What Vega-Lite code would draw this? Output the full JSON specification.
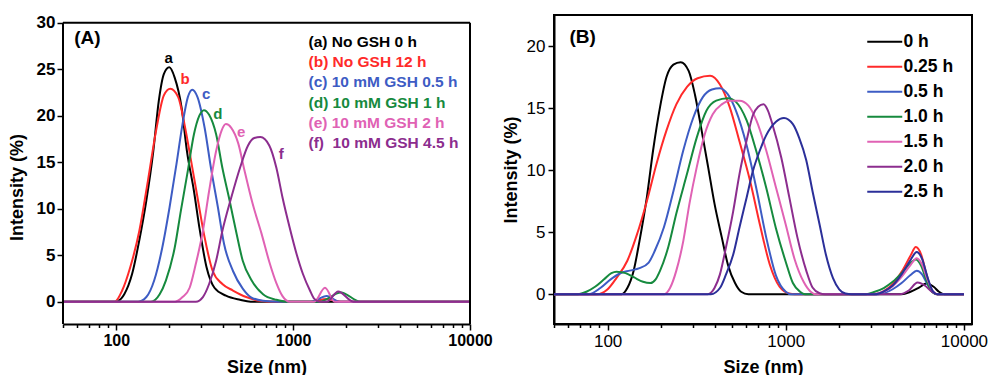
{
  "$schema": "https://vega.github.io/schema/vega-lite/v6.json",
  "padding": {"left": 8, "top": 13, "right": 0, "bottom": 0},
  "spacing": 8,
  "config": {
    "font": "Liberation Sans",
    "view": {"stroke": "black", "strokeWidth": 2},
    "axis": {"grid": false, "domainColor": "black", "domainWidth": 2, "tickColor": "black", "tickWidth": 1.5, "labelColor": "black", "titleColor": "black", "labelOverlap": false, "labelFlush": false, "titleFontWeight": "bold", "titleFontSize": 18}
  },
  "resolve": {"scale": {"x": "independent", "y": "independent", "color": "independent"}, "legend": {"color": "independent"}},
  "datasets": {
    "A": [
      {"k":"a","s":50,"v":0},{"k":"a","s":100,"v":0},{"k":"a","s":102,"v":0.05},{"k":"a","s":111,"v":0.8},{"k":"a","s":123,"v":3.0},{"k":"a","s":135,"v":6.6},{"k":"a","s":148,"v":10.9},{"k":"a","s":162,"v":16.2},{"k":"a","s":174,"v":21.6},{"k":"a","s":186,"v":24.5},{"k":"a","s":199.5,"v":25.2},{"k":"a","s":214,"v":24.1},{"k":"a","s":234,"v":20.9},{"k":"a","s":251,"v":16.2},{"k":"a","s":275,"v":11.9},{"k":"a","s":295,"v":8.0},{"k":"a","s":324,"v":3.7},{"k":"a","s":359,"v":1.5},{"k":"a","s":417,"v":0.65},{"k":"a","s":501,"v":0.2},{"k":"a","s":575,"v":0},{"k":"a","s":10000,"v":0},
      {"k":"b","s":50,"v":0},{"k":"b","s":98,"v":0},{"k":"b","s":108,"v":1.2},{"k":"b","s":120,"v":3.7},{"k":"b","s":135,"v":7.6},{"k":"b","s":151,"v":13.0},{"k":"b","s":168,"v":18.4},{"k":"b","s":186,"v":22.2},{"k":"b","s":202,"v":22.9},{"k":"b","s":224,"v":22.0},{"k":"b","s":243,"v":19.1},{"k":"b","s":263,"v":15.5},{"k":"b","s":288,"v":11.2},{"k":"b","s":316,"v":6.9},{"k":"b","s":351,"v":3.3},{"k":"b","s":398,"v":1.9},{"k":"b","s":457,"v":1.2},{"k":"b","s":543,"v":0.5},{"k":"b","s":646,"v":0.1},{"k":"b","s":776,"v":0},{"k":"b","s":1259,"v":0},{"k":"b","s":1549,"v":0.3},{"k":"b","s":1862,"v":0},{"k":"b","s":10000,"v":0},
      {"k":"c","s":50,"v":0},{"k":"c","s":133,"v":0},{"k":"c","s":148,"v":0.5},{"k":"c","s":164,"v":2.3},{"k":"c","s":182,"v":5.8},{"k":"c","s":200,"v":10.1},{"k":"c","s":219,"v":14.8},{"k":"c","s":237,"v":19.1},{"k":"c","s":254,"v":22.0},{"k":"c","s":269,"v":22.8},{"k":"c","s":288,"v":22.0},{"k":"c","s":316,"v":18.7},{"k":"c","s":343,"v":14.4},{"k":"c","s":376,"v":10.1},{"k":"c","s":407,"v":6.2},{"k":"c","s":457,"v":3.3},{"k":"c","s":519,"v":1.4},{"k":"c","s":575,"v":0.5},{"k":"c","s":676,"v":0.1},{"k":"c","s":832,"v":0},{"k":"c","s":1259,"v":0},{"k":"c","s":1549,"v":0.6},{"k":"c","s":1820,"v":0},{"k":"c","s":10000,"v":0},
      {"k":"d","s":50,"v":0},{"k":"d","s":157,"v":0},{"k":"d","s":176,"v":0.8},{"k":"d","s":191,"v":2.3},{"k":"d","s":214,"v":5.8},{"k":"d","s":232,"v":9.8},{"k":"d","s":254,"v":14.1},{"k":"d","s":275,"v":18.0},{"k":"d","s":295,"v":20.0},{"k":"d","s":313,"v":20.6},{"k":"d","s":335,"v":20.1},{"k":"d","s":367,"v":18.0},{"k":"d","s":398,"v":14.4},{"k":"d","s":437,"v":10.9},{"k":"d","s":479,"v":7.3},{"k":"d","s":519,"v":4.4},{"k":"d","s":582,"v":2.3},{"k":"d","s":676,"v":0.8},{"k":"d","s":804,"v":0.2},{"k":"d","s":912,"v":0},{"k":"d","s":1413,"v":0},{"k":"d","s":1862,"v":1.0},{"k":"d","s":2399,"v":0},{"k":"d","s":10000,"v":0},
      {"k":"e","s":50,"v":0},{"k":"e","s":215,"v":0},{"k":"e","s":237,"v":0.5},{"k":"e","s":260,"v":1.5},{"k":"e","s":282,"v":4.1},{"k":"e","s":309,"v":7.6},{"k":"e","s":335,"v":11.9},{"k":"e","s":367,"v":16.2},{"k":"e","s":394,"v":18.4},{"k":"e","s":417,"v":19.1},{"k":"e","s":447,"v":18.7},{"k":"e","s":490,"v":17.0},{"k":"e","s":531,"v":14.1},{"k":"e","s":589,"v":10.6},{"k":"e","s":661,"v":7.4},{"k":"e","s":733,"v":4.3},{"k":"e","s":804,"v":2.0},{"k":"e","s":871,"v":0.6},{"k":"e","s":955,"v":0},{"k":"e","s":1318,"v":0},{"k":"e","s":1514,"v":1.5},{"k":"e","s":1718,"v":0},{"k":"e","s":10000,"v":0},
      {"k":"f","s":50,"v":0},{"k":"f","s":282,"v":0},{"k":"f","s":309,"v":0.5},{"k":"f","s":335,"v":1.9},{"k":"f","s":367,"v":4.4},{"k":"f","s":398,"v":7.6},{"k":"f","s":447,"v":11.2},{"k":"f","s":501,"v":14.4},{"k":"f","s":556,"v":16.8},{"k":"f","s":603,"v":17.6},{"k":"f","s":653,"v":17.7},{"k":"f","s":733,"v":16.8},{"k":"f","s":804,"v":14.4},{"k":"f","s":871,"v":11.2},{"k":"f","s":955,"v":8.0},{"k":"f","s":1047,"v":5.1},{"k":"f","s":1135,"v":3.0},{"k":"f","s":1245,"v":1.2},{"k":"f","s":1318,"v":0.3},{"k":"f","s":1413,"v":0},{"k":"f","s":1549,"v":0},{"k":"f","s":1799,"v":1.1},{"k":"f","s":2188,"v":0},{"k":"f","s":10000,"v":0}
    ],
    "labA": [
      {"k":"a","s":198,"v":26.2,"t":"a"},{"k":"b","s":245,"v":24.0,"t":"b"},{"k":"c","s":322,"v":22.3,"t":"c"},{"k":"d","s":375,"v":20.2,"t":"d"},{"k":"e","s":509,"v":18.3,"t":"e"},{"k":"f","s":857,"v":15.9,"t":"f"}
    ],
    "B": [
      {"t":"0 h","s":50,"v":0},{"t":"0 h","s":120,"v":0},{"t":"0 h","s":129,"v":0.5},{"t":"0 h","s":140,"v":1.9},{"t":"0 h","s":151,"v":4.3},{"t":"0 h","s":166,"v":7.8},{"t":"0 h","s":180,"v":11.6},{"t":"0 h","s":197,"v":15.1},{"t":"0 h","s":214,"v":17.5},{"t":"0 h","s":234,"v":18.5},{"t":"0 h","s":257,"v":18.7},{"t":"0 h","s":285,"v":18.0},{"t":"0 h","s":309,"v":16.1},{"t":"0 h","s":335,"v":13.4},{"t":"0 h","s":367,"v":10.2},{"t":"0 h","s":398,"v":7.3},{"t":"0 h","s":437,"v":4.6},{"t":"0 h","s":473,"v":2.4},{"t":"0 h","s":519,"v":0.9},{"t":"0 h","s":562,"v":0.2},{"t":"0 h","s":617,"v":0},{"t":"0 h","s":4467,"v":0},{"t":"0 h","s":5012,"v":0.2},{"t":"0 h","s":5623,"v":0.55},{"t":"0 h","s":6166,"v":0.86},{"t":"0 h","s":6761,"v":0.6},{"t":"0 h","s":7244,"v":0.2},{"t":"0 h","s":7762,"v":0},{"t":"0 h","s":10000,"v":0},
      {"t":"0.25 h","s":50,"v":0},{"t":"0.25 h","s":87,"v":0},{"t":"0.25 h","s":100,"v":0.4},{"t":"0.25 h","s":112,"v":1.3},{"t":"0.25 h","s":129,"v":2.7},{"t":"0.25 h","s":146,"v":4.8},{"t":"0.25 h","s":166,"v":7.5},{"t":"0.25 h","s":188,"v":10.5},{"t":"0.25 h","s":214,"v":13.2},{"t":"0.25 h","s":243,"v":15.3},{"t":"0.25 h","s":279,"v":16.7},{"t":"0.25 h","s":320,"v":17.4},{"t":"0.25 h","s":376,"v":17.6},{"t":"0.25 h","s":427,"v":16.9},{"t":"0.25 h","s":484,"v":15.1},{"t":"0.25 h","s":550,"v":12.3},{"t":"0.25 h","s":631,"v":9.1},{"t":"0.25 h","s":716,"v":5.6},{"t":"0.25 h","s":813,"v":2.4},{"t":"0.25 h","s":923,"v":0.6},{"t":"0.25 h","s":1047,"v":0.05},{"t":"0.25 h","s":1122,"v":0},{"t":"0.25 h","s":3162,"v":0},{"t":"0.25 h","s":3548,"v":0.25},{"t":"0.25 h","s":3981,"v":0.8},{"t":"0.25 h","s":4467,"v":1.8},{"t":"0.25 h","s":5012,"v":3.1},{"t":"0.25 h","s":5370,"v":3.8},{"t":"0.25 h","s":5754,"v":3.2},{"t":"0.25 h","s":6166,"v":1.6},{"t":"0.25 h","s":6607,"v":0.3},{"t":"0.25 h","s":7079,"v":0},{"t":"0.25 h","s":10000,"v":0},
      {"t":"0.5 h","s":50,"v":0},{"t":"0.5 h","s":78,"v":0},{"t":"0.5 h","s":91,"v":0.5},{"t":"0.5 h","s":104,"v":1.2},{"t":"0.5 h","s":117,"v":1.67},{"t":"0.5 h","s":133,"v":1.9},{"t":"0.5 h","s":151,"v":2.1},{"t":"0.5 h","s":170,"v":2.55},{"t":"0.5 h","s":184,"v":3.5},{"t":"0.5 h","s":207,"v":5.4},{"t":"0.5 h","s":234,"v":8.3},{"t":"0.5 h","s":266,"v":11.6},{"t":"0.5 h","s":302,"v":14.2},{"t":"0.5 h","s":343,"v":15.9},{"t":"0.5 h","s":385,"v":16.5},{"t":"0.5 h","s":427,"v":16.6},{"t":"0.5 h","s":473,"v":16.1},{"t":"0.5 h","s":525,"v":14.8},{"t":"0.5 h","s":603,"v":12.0},{"t":"0.5 h","s":684,"v":8.5},{"t":"0.5 h","s":776,"v":4.6},{"t":"0.5 h","s":881,"v":1.5},{"t":"0.5 h","s":1000,"v":0.2},{"t":"0.5 h","s":1072,"v":0},{"t":"0.5 h","s":3311,"v":0},{"t":"0.5 h","s":3981,"v":0.4},{"t":"0.5 h","s":4467,"v":0.9},{"t":"0.5 h","s":5012,"v":1.55},{"t":"0.5 h","s":5433,"v":1.9},{"t":"0.5 h","s":5821,"v":1.6},{"t":"0.5 h","s":6237,"v":0.8},{"t":"0.5 h","s":6683,"v":0.15},{"t":"0.5 h","s":7079,"v":0},{"t":"0.5 h","s":10000,"v":0},
      {"t":"1.0 h","s":50,"v":0},{"t":"1.0 h","s":68,"v":0},{"t":"1.0 h","s":76,"v":0.2},{"t":"1.0 h","s":85,"v":0.6},{"t":"1.0 h","s":95.5,"v":1.2},{"t":"1.0 h","s":105,"v":1.7},{"t":"1.0 h","s":112,"v":1.82},{"t":"1.0 h","s":126,"v":1.7},{"t":"1.0 h","s":141,"v":1.35},{"t":"1.0 h","s":158,"v":1.0},{"t":"1.0 h","s":174,"v":0.9},{"t":"1.0 h","s":186,"v":1.2},{"t":"1.0 h","s":197,"v":1.9},{"t":"1.0 h","s":219,"v":3.8},{"t":"1.0 h","s":243,"v":6.5},{"t":"1.0 h","s":279,"v":9.7},{"t":"1.0 h","s":316,"v":12.6},{"t":"1.0 h","s":359,"v":14.8},{"t":"1.0 h","s":407,"v":15.6},{"t":"1.0 h","s":473,"v":15.8},{"t":"1.0 h","s":525,"v":15.5},{"t":"1.0 h","s":603,"v":14.0},{"t":"1.0 h","s":684,"v":11.5},{"t":"1.0 h","s":776,"v":8.6},{"t":"1.0 h","s":881,"v":5.3},{"t":"1.0 h","s":1000,"v":2.6},{"t":"1.0 h","s":1096,"v":0.9},{"t":"1.0 h","s":1202,"v":0.2},{"t":"1.0 h","s":1288,"v":0},{"t":"1.0 h","s":2818,"v":0},{"t":"1.0 h","s":3162,"v":0.2},{"t":"1.0 h","s":3548,"v":0.5},{"t":"1.0 h","s":3981,"v":1.0},{"t":"1.0 h","s":4467,"v":1.7},{"t":"1.0 h","s":5012,"v":2.5},{"t":"1.0 h","s":5370,"v":2.8},{"t":"1.0 h","s":5754,"v":2.3},{"t":"1.0 h","s":6166,"v":1.1},{"t":"1.0 h","s":6607,"v":0.2},{"t":"1.0 h","s":7079,"v":0},{"t":"1.0 h","s":10000,"v":0},
      {"t":"1.5 h","s":50,"v":0},{"t":"1.5 h","s":208,"v":0},{"t":"1.5 h","s":224,"v":0.5},{"t":"1.5 h","s":243,"v":1.9},{"t":"1.5 h","s":266,"v":4.3},{"t":"1.5 h","s":288,"v":7.3},{"t":"1.5 h","s":316,"v":10.2},{"t":"1.5 h","s":351,"v":12.9},{"t":"1.5 h","s":389,"v":14.5},{"t":"1.5 h","s":437,"v":15.3},{"t":"1.5 h","s":484,"v":15.6},{"t":"1.5 h","s":550,"v":15.6},{"t":"1.5 h","s":617,"v":15.2},{"t":"1.5 h","s":684,"v":14.0},{"t":"1.5 h","s":776,"v":11.6},{"t":"1.5 h","s":881,"v":8.6},{"t":"1.5 h","s":1000,"v":5.6},{"t":"1.5 h","s":1122,"v":2.8},{"t":"1.5 h","s":1259,"v":1.0},{"t":"1.5 h","s":1380,"v":0.2},{"t":"1.5 h","s":1479,"v":0},{"t":"1.5 h","s":3020,"v":0},{"t":"1.5 h","s":3548,"v":0.2},{"t":"1.5 h","s":3981,"v":0.65},{"t":"1.5 h","s":4467,"v":1.4},{"t":"1.5 h","s":5012,"v":2.35},{"t":"1.5 h","s":5433,"v":2.9},{"t":"1.5 h","s":5821,"v":2.4},{"t":"1.5 h","s":6237,"v":1.2},{"t":"1.5 h","s":6683,"v":0.25},{"t":"1.5 h","s":7079,"v":0},{"t":"1.5 h","s":10000,"v":0},
      {"t":"2.0 h","s":50,"v":0},{"t":"2.0 h","s":365,"v":0},{"t":"2.0 h","s":398,"v":0.5},{"t":"2.0 h","s":427,"v":1.6},{"t":"2.0 h","s":462,"v":3.8},{"t":"2.0 h","s":507,"v":6.7},{"t":"2.0 h","s":550,"v":9.7},{"t":"2.0 h","s":603,"v":12.4},{"t":"2.0 h","s":653,"v":14.4},{"t":"2.0 h","s":700,"v":15.1},{"t":"2.0 h","s":750,"v":15.3},{"t":"2.0 h","s":794,"v":14.8},{"t":"2.0 h","s":841,"v":13.7},{"t":"2.0 h","s":944,"v":11.0},{"t":"2.0 h","s":1047,"v":7.8},{"t":"2.0 h","s":1161,"v":4.6},{"t":"2.0 h","s":1303,"v":1.9},{"t":"2.0 h","s":1413,"v":0.54},{"t":"2.0 h","s":1549,"v":0.08},{"t":"2.0 h","s":1660,"v":0},{"t":"2.0 h","s":4365,"v":0},{"t":"2.0 h","s":4898,"v":0.3},{"t":"2.0 h","s":5495,"v":0.94},{"t":"2.0 h","s":6026,"v":0.7},{"t":"2.0 h","s":6607,"v":0.2},{"t":"2.0 h","s":7079,"v":0},{"t":"2.0 h","s":10000,"v":0},
      {"t":"2.5 h","s":50,"v":0},{"t":"2.5 h","s":380,"v":0},{"t":"2.5 h","s":427,"v":0.5},{"t":"2.5 h","s":462,"v":1.6},{"t":"2.5 h","s":507,"v":3.2},{"t":"2.5 h","s":550,"v":5.4},{"t":"2.5 h","s":603,"v":7.8},{"t":"2.5 h","s":653,"v":9.9},{"t":"2.5 h","s":716,"v":11.6},{"t":"2.5 h","s":776,"v":12.8},{"t":"2.5 h","s":881,"v":13.9},{"t":"2.5 h","s":977,"v":14.2},{"t":"2.5 h","s":1096,"v":13.7},{"t":"2.5 h","s":1189,"v":12.6},{"t":"2.5 h","s":1303,"v":10.8},{"t":"2.5 h","s":1413,"v":8.3},{"t":"2.5 h","s":1549,"v":5.6},{"t":"2.5 h","s":1679,"v":3.2},{"t":"2.5 h","s":1841,"v":1.3},{"t":"2.5 h","s":1995,"v":0.4},{"t":"2.5 h","s":2163,"v":0.05},{"t":"2.5 h","s":2344,"v":0},{"t":"2.5 h","s":3162,"v":0},{"t":"2.5 h","s":3548,"v":0.22},{"t":"2.5 h","s":3981,"v":0.7},{"t":"2.5 h","s":4467,"v":1.6},{"t":"2.5 h","s":5012,"v":2.75},{"t":"2.5 h","s":5433,"v":3.4},{"t":"2.5 h","s":5821,"v":2.85},{"t":"2.5 h","s":6237,"v":1.4},{"t":"2.5 h","s":6683,"v":0.25},{"t":"2.5 h","s":7079,"v":0},{"t":"2.5 h","s":10000,"v":0}
    ]
  },
  "hconcat": [
    {
      "width": 407, "height": 309,
      "view": {"stroke": null},
      "layer": [
        {
          "data": {"name": "A"},
          "mark": {"type": "line", "interpolate": "monotone", "strokeWidth": 2, "clip": true},
          "encoding": {
            "x": {"field": "s", "type": "quantitative", "scale": {"type": "log", "domain": [50, 10000], "nice": false},
              "axis": {"title": "Size (nm)", "values": [50,60,70,80,90,100,200,300,400,500,600,700,800,900,1000,2000,3000,4000,5000,6000,7000,8000,9000,10000], "format": "d",
                "labelExpr": "datum.value == 100 || datum.value == 1000 || datum.value == 10000 ? datum.label : ''",
                "tickSize": {"condition": {"test": "datum.value == 100 || datum.value == 1000 || datum.value == 10000", "value": 6}, "value": 3.5},
                "labelFontSize": 16, "labelFontWeight": "bold", "labelPadding": 2, "titlePadding": 10}},
            "y": {"field": "v", "type": "quantitative", "scale": {"domain": [-2.4, 30.83], "nice": false, "zero": false},
              "axis": {"title": "Intensity (%)", "domain": false, "titleY": 172, "values": [0,2.5,5,7.5,10,12.5,15,17.5,20,22.5,25,27.5,30],
                "labelExpr": "datum.value % 5 == 0 ? datum.label : ''",
                "tickSize": {"condition": {"test": "datum.value % 5 == 0", "value": 6}, "value": -4},
                "labelFontSize": 17, "labelFontWeight": "bold", "labelPadding": 2, "titlePadding": 10}},
            "color": {"field": "k", "type": "nominal",
              "scale": {"domain": ["a","b","c","d","e","f"], "range": ["#000000","#ff2a2a","#3d5cc4","#168a3e","#e062b4","#8c2d8e"]},
              "legend": {"orient": "none", "legendX": 230, "legendY": 19, "title": null, "padding": 0,
                "labelExpr": "datum.value == 'a' ? '(a) No GSH 0 h' : datum.value == 'b' ? '(b) No GSH 12 h' : datum.value == 'c' ? '(c) 10 mM GSH 0.5 h' : datum.value == 'd' ? '(d) 10 mM GSH 1 h' : datum.value == 'e' ? '(e) 10 mM GSH 2 h' : '(f)\u00a0 10 mM GSH 4.5 h'",
                "labelColor": {"expr": "datum.value == 'a' ? '#000000' : datum.value == 'b' ? '#ff2a2a' : datum.value == 'c' ? '#3d5cc4' : datum.value == 'd' ? '#168a3e' : datum.value == 'e' ? '#e062b4' : '#8c2d8e'"},
                "labelFontSize": 15.5, "labelFontWeight": "bold", "labelLimit": 400, "labelOffset": 0,
                "symbolOpacity": 0, "symbolSize": 0, "symbolStrokeWidth": 0, "rowPadding": 3.3}}
          }
        },
        {
          "data": {"values": [{}]},
          "mark": {"type": "rule", "strokeWidth": 2, "color": "black"},
          "encoding": {"x": {"datum": 50}, "y": {"datum": -2.4}, "y2": {"datum": 30}}
        },
        {
          "data": {"values": [{}]},
          "mark": {"type": "rule", "strokeWidth": 2, "color": "black"},
          "encoding": {"x": {"datum": 10000}, "y": {"datum": -2.4}, "y2": {"datum": 30}}
        },
        {
          "data": {"values": [{}]},
          "mark": {"type": "rule", "strokeWidth": 2, "color": "black"},
          "encoding": {"x": {"datum": 50}, "x2": {"datum": 10000}, "y": {"datum": 30}}
        },
        {
          "data": {"name": "labA"},
          "mark": {"type": "text", "fontSize": 15, "fontWeight": "bold"},
          "encoding": {
            "x": {"field": "s", "type": "quantitative"},
            "y": {"field": "v", "type": "quantitative"},
            "text": {"field": "t"},
            "color": {"field": "k", "type": "nominal", "legend": null}
          }
        },
        {
          "data": {"values": [{"s": 57.8, "v": 28.4, "t": "(A)"}]},
          "mark": {"type": "text", "align": "left", "fontSize": 19, "fontWeight": "bold", "color": "black"},
          "encoding": {
            "x": {"field": "s", "type": "quantitative"},
            "y": {"field": "v", "type": "quantitative"},
            "text": {"field": "t"}
          }
        }
      ]
    },
    {
      "width": 418, "height": 309,
      "layer": [
        {
          "data": {"name": "B"},
          "mark": {"type": "line", "interpolate": "monotone", "strokeWidth": 2, "clip": true},
          "encoding": {
            "x": {"field": "s", "type": "quantitative", "scale": {"type": "log", "domain": [50, 11100], "nice": false},
              "axis": {"title": "Size (nm)", "values": [50,60,70,80,90,100,200,300,400,500,600,700,800,900,1000,2000,3000,4000,5000,6000,7000,8000,9000,10000], "format": "d",
                "labelExpr": "datum.value == 100 || datum.value == 1000 || datum.value == 10000 ? datum.label : ''",
                "tickSize": {"condition": {"test": "datum.value == 100 || datum.value == 1000 || datum.value == 10000", "value": 6}, "value": 3.5},
                "labelFontSize": 17, "labelPadding": 3, "titlePadding": 9}},
            "y": {"field": "v", "type": "quantitative", "scale": {"domain": [-2.4, 22.5], "nice": false, "zero": false},
              "axis": {"title": "Intensity (%)", "values": [0,2.5,5,7.5,10,12.5,15,17.5,20],
                "labelExpr": "datum.value % 5 == 0 ? datum.label : ''",
                "tickSize": {"condition": {"test": "datum.value % 5 == 0", "value": 6}, "value": 3.5},
                "labelFontSize": 17, "labelPadding": 3, "titlePadding": 6}},
            "color": {"field": "t", "type": "nominal",
              "scale": {"domain": ["0 h","0.25 h","0.5 h","1.0 h","1.5 h","2.0 h","2.5 h"], "range": ["#000000","#ff2a2a","#3d5cc4","#168a3e","#e062b4","#8c2d8e","#2b2f99"]},
              "legend": {"orient": "top-right", "title": null, "offset": 18, "padding": 0,
                "symbolType": "M-3,0H3", "symbolSize": 136, "symbolStrokeWidth": 2, "labelOffset": 10,
                "labelFontSize": 17.5, "labelFontWeight": "bold", "labelColor": "black", "rowPadding": 6}}
          }
        },
        {
          "data": {"values": [{"s": 61.1, "v": 20.7, "t": "(B)"}]},
          "mark": {"type": "text", "align": "left", "fontSize": 19, "fontWeight": "bold", "color": "black"},
          "encoding": {
            "x": {"field": "s", "type": "quantitative"},
            "y": {"field": "v", "type": "quantitative"},
            "text": {"field": "t"}
          }
        }
      ]
    }
  ]
}
